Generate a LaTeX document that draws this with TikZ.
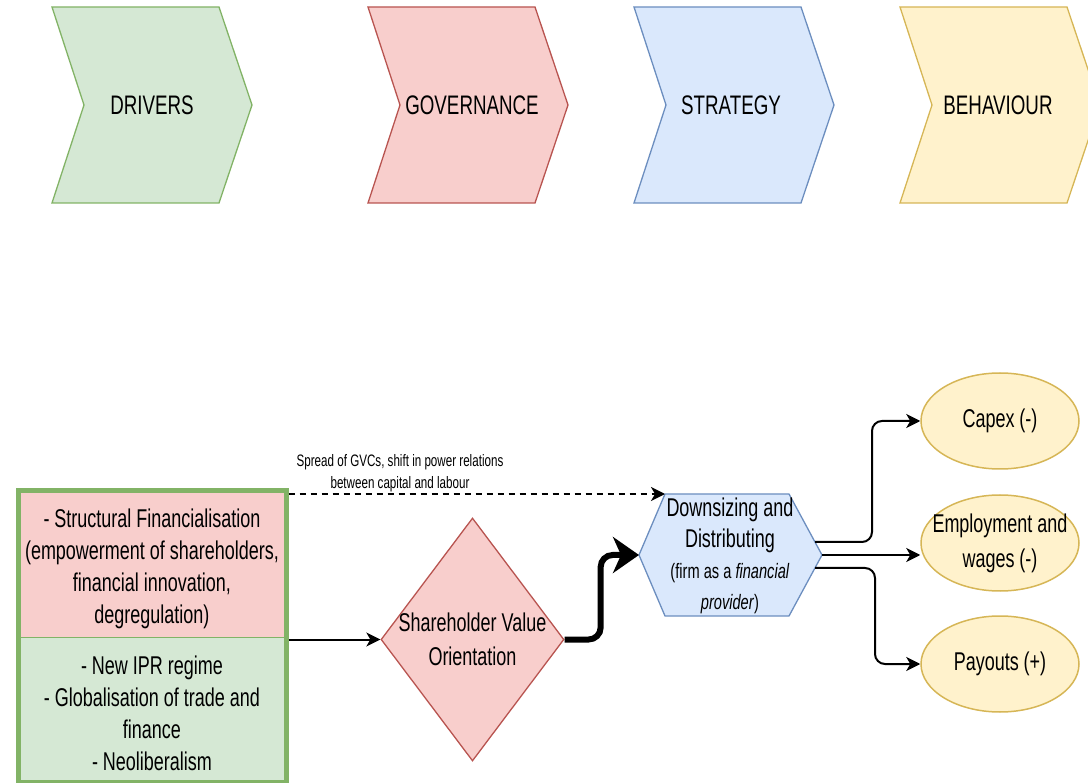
\documentclass[tikz,border=0pt]{standalone}
\usepackage{fontspec}
\setmainfont[FakeStretch=0.7]{Liberation Sans}
\usetikzlibrary{arrows.meta,shapes.geometric}

\definecolor{grnF}{HTML}{D5E8D4}\definecolor{grnD}{HTML}{82B366}
\definecolor{redF}{HTML}{F8CECC}\definecolor{redD}{HTML}{B85450}
\definecolor{bluF}{HTML}{DAE8FC}\definecolor{bluD}{HTML}{6C8EBF}
\definecolor{yelF}{HTML}{FFF2CC}\definecolor{yelD}{HTML}{D6B656}

\newcommand\fs[2]{\fontsize{#1}{#2}\selectfont}

\begin{document}
\begin{tikzpicture}[x=1pt,y=-1pt,
  lbl/.style={align=center,inner sep=0pt,font=\fs{25.7}{32}},
  chevlbl/.style={inner sep=0pt,font=\fs{26.8}{32}},
  chevron/.style={line width=1.3pt},
  oval/.style={ellipse,draw=yelD,fill=yelF,line width=1.5pt,minimum width=158pt,minimum height=96pt,inner sep=0pt},
  arr/.style={line width=2pt,rounded corners=10pt,-{Stealth[length=14pt,width=14pt,inset=4pt]}},
  dasharr/.style={line width=2pt,dash pattern=on 6pt off 5pt,-{Stealth[length=14pt,width=14pt,inset=4pt]}},
  bigarr/.style={line width=6pt,rounded corners=12pt,-{Stealth[length=26pt,width=36pt,inset=8pt]}}]
\useasboundingbox (0,0) rectangle (1088,783);

% stage chevrons
\draw[chevron,draw=grnD,fill=grnF] (52,7) -- (219,7) -- (252,105) -- (219,203) -- (52,203) -- (84,105) -- cycle;
\node[chevlbl] (drivers) at (152,105) {DRIVERS};
\draw[chevron,draw=redD,fill=redF] (368,7) -- (535,7) -- (568,105) -- (535,203) -- (368,203) -- (400,105) -- cycle;
\node[chevlbl] (governance) at (472,105) {GOVERNANCE};
\draw[chevron,draw=bluD,fill=bluF] (634,7) -- (801,7) -- (834,105) -- (801,203) -- (634,203) -- (666,105) -- cycle;
\node[chevlbl] (strategy) at (731,105) {STRATEGY};
\draw[chevron,draw=yelD,fill=yelF] (900,7) -- (1067,7) -- (1100,105) -- (1067,203) -- (900,203) -- (932,105) -- cycle;
\node[chevlbl] (behaviour) at (998,105) {BEHAVIOUR};

% drivers box: two stacked panels inside a thick frame
\node[fill=redF,draw=grnD,line width=1pt,minimum width=268pt,minimum height=146pt,inner sep=0pt] (finbox) at (152,564) {};
\node[fill=grnF,draw=grnD,line width=1pt,minimum width=268pt,minimum height=145pt,inner sep=0pt] (globbox) at (152,709.5) {};
\node[draw=grnD,line width=5pt,minimum width=268pt,minimum height=291pt,inner sep=0pt] (drv) at (152,636.5) {};
\node[lbl,font=\fs{25.7}{32}] (fintxt) at (152,569) {- Structural Financialisation\\(empowerment of shareholders,\\financial innovation,\\degregulation)};
\node[lbl,font=\fs{25.7}{32}] (globtxt) at (152,713) {- New IPR regime\\- Globalisation of trade and\\finance\\- Neoliberalism};

% governance diamond
\node[diamond,aspect=0.75,draw=redD,fill=redF,line width=1.3pt,minimum width=183pt,minimum height=243pt,inner sep=0pt] (svo) at (472.5,639.5) {};
\node[lbl,font=\fs{25.7}{34}] (svotxt) at (svo) {Shareholder Value\\Orientation};

% strategy hexagon
\coordinate (hexL) at (639,555);
\coordinate (hexTL) at (665,494);
\coordinate (hexTR) at (789,494);
\coordinate (hexR) at (822,555);
\coordinate (hexBR) at (789,616);
\coordinate (hexBL) at (665,616);
\draw[draw=bluD,fill=bluF,line width=1.3pt] (hexL) -- (hexTL) -- (hexTR) -- (hexR) -- (hexBR) -- (hexBL) -- cycle;
\node[lbl,font=\fs{25.7}{31}] (dd) at (730,556) {Downsizing and\\Distributing\\\fs{20.9}{31}(firm as a \textit{financial}\\\fs{20.9}{31}\textit{provider})};
\coordinate (o1) at (815,542);
\coordinate (o3) at (815,568);

% behaviour ellipses
\node[oval] (capex) at (1000,421) {};
\node[lbl] (capextxt) at (capex) {Capex (-)};
\node[oval] (emp) at (1000,543) {};
\node[lbl,font=\fs{25.7}{35}] (emptxt) at (emp) {Employment and\\wages (-)};
\node[oval] (pay) at (1000,664) {};
\node[lbl] (paytxt) at (pay) {Payouts (+)};

% connectors
\draw[dasharr] (drv.north east |- hexTL) -- (hexTL);
\node[lbl,font=\fs{16.6}{22}] (gvc) at (400,473) {Spread of GVCs, shift in power relations\\between capital and labour};
\draw[arr] (drv.east |- svo.west) -- (svo.west);
\draw[bigarr] (svo.east) -- ++(36,0) |- (hexL);
\draw[arr] (o1) -- ++(57,0) |- (capex.west);
\draw[arr] (hexR) -- (hexR -| emp.west);
\draw[arr] (o3) -- ++(60,0) |- (pay.west);
\end{tikzpicture}
\end{document}
